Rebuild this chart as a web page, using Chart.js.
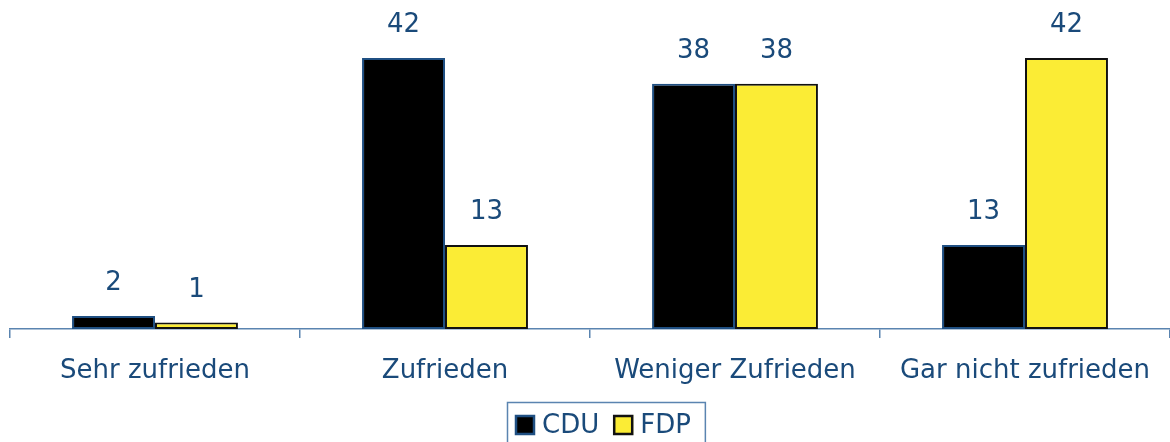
<!DOCTYPE html>
<html><head><meta charset="utf-8">
<script src="https://cdn.jsdelivr.net/npm/chart.js@4"></script>
<style>html,body{margin:0;padding:0;background:#fff}#wrap{width:1170px;height:442px}</style>
</head><body><div id="wrap"><canvas id="c" width="1170" height="442"></canvas></div>
<script>
const categories = ["Sehr zufrieden", "Zufrieden", "Weniger Zufrieden", "Gar nicht zufrieden"];
const cduValues = [2, 42, 38, 13];
const fdpValues = [1, 13, 38, 42];
const seriesNames = ["CDU", "FDP"];

const textColor = '#1a4a7a';
const axisColor = '#5a84b0';
const fontFam = '"DejaVu Sans", Verdana, sans-serif';
const fontSize = 26;

const valueLabels = {
  id: 'valueLabels',
  afterDatasetsDraw(chart) {
    const ctx = chart.ctx;
    ctx.save();
    ctx.font = fontSize + 'px ' + fontFam;
    ctx.fillStyle = textColor;
    ctx.textAlign = 'center';
    ctx.textBaseline = 'alphabetic';
    chart.data.datasets.forEach((ds, i) => {
      chart.getDatasetMeta(i).data.forEach((bar, j) => {
        ctx.fillText(String(ds.data[j]), bar.x, bar.y - 26);
      });
    });
    ctx.restore();
  }
};
const customLegend = {
  id: 'customLegend',
  afterDraw(chart) {
    const ctx = chart.ctx;
    const ds = chart.data.datasets;
    ctx.save();
    ctx.font = fontSize + 'px ' + fontFam;
    const sq = 20, gapBT = 7, gapItems = 14, padL = 8, padR = 14;
    let total = padL + padR;
    ds.forEach((d, i) => { total += sq + gapBT + ctx.measureText(d.label).width + (i < ds.length - 1 ? gapItems : 0); });
    const cx = (chart.chartArea.left + chart.chartArea.right) / 2 + 16;
    const x0 = Math.round(cx - total / 2);
    const top = 402, cy = 425;
    ctx.strokeStyle = axisColor;
    ctx.lineWidth = 1.5;
    ctx.strokeRect(x0 + 0.5, top + 0.5, total, 80);
    let x = x0 + padL;
    ds.forEach((d, i) => {
      ctx.fillStyle = d.backgroundColor;
      ctx.fillRect(x, cy - sq / 2, sq, sq);
      ctx.strokeStyle = d.borderColor;
      ctx.lineWidth = 2.5;
      ctx.strokeRect(x + 1, cy - sq / 2 + 1, sq - 2, sq - 2);
      x += sq + gapBT;
      ctx.fillStyle = textColor;
      ctx.textAlign = 'left';
      ctx.textBaseline = 'middle';
      ctx.fillText(d.label, x, cy + 1);
      x += ctx.measureText(d.label).width + gapItems;
    });
    ctx.restore();
  }
};

new Chart(document.getElementById('c'), {
  type: 'bar',
  data: {
    labels: categories,
    datasets: [
      { label: seriesNames[0], data: cduValues, backgroundColor: '#000000', borderColor: '#1f4f82', borderWidth: 2, borderSkipped: false },
      { label: seriesNames[1], data: fdpValues, backgroundColor: '#fbec35', borderColor: '#111111', borderWidth: 2, borderSkipped: false }
    ]
  },
  options: {
    responsive: false,
    animation: false,
    events: [],
    layout: { padding: { left: 10, right: 0, top: 58, bottom: 43 } },
    scales: {
      x: {
        offset: true,
        grid: { offset: true, drawOnChartArea: false, drawTicks: true, tickLength: 9, color: axisColor, lineWidth: 1.5 },
        border: { display: true, color: axisColor, width: 1.5 },
        ticks: { color: textColor, font: { family: fontFam, size: fontSize }, padding: 18, maxRotation: 0 },
        afterFit: s => { s.height = 70; }
      },
      y: { display: false, min: 0, max: 42 }
    },
    datasets: { bar: { categoryPercentage: 0.572, barPercentage: 1.0 } },
    plugins: {
      legend: { display: false },
      tooltip: { enabled: false }
    }
  },
  plugins: [valueLabels, customLegend]
});
</script></body></html>
